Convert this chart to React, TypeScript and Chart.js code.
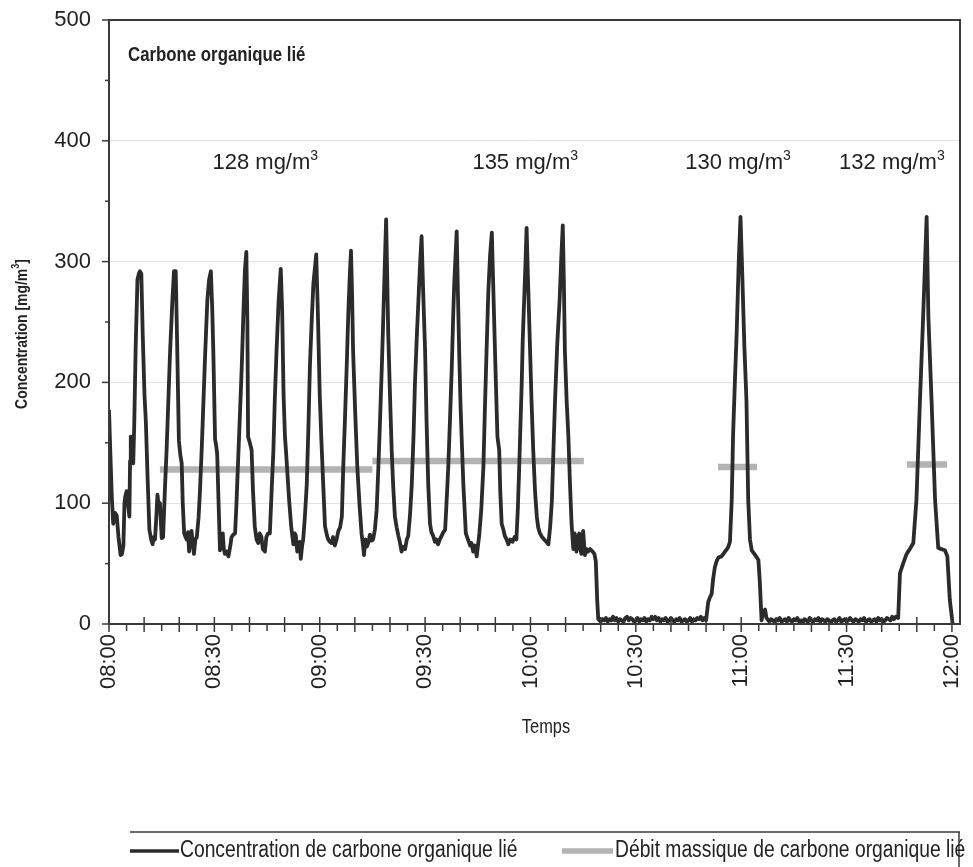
import React, { useEffect, useRef } from "react";
import { Chart, registerables } from "chart.js";

Chart.register(...registerables);

// ---- DATA (time in minutes after 08:00, concentration in mg/m3) ----
const concCycles: [number, number][] = [
  [0, 177], [0.4, 140], [0.8, 105], [1.2, 83], [1.7, 92], [2.2, 90], [2.7, 72], [3.3, 57], [3.7, 58], [4.1, 65],
  [4.4, 100], [4.6, 105], [5.0, 110], [5.4, 100], [5.8, 89], [6.0, 135], [6.2, 155], [6.6, 140], [6.9, 133], [7.2, 167],
  [7.6, 230], [8.1, 285], [8.5, 290], [8.8, 292], [9.2, 290], [9.6, 240], [10.1, 190], [10.5, 167], [11.0, 120], [11.5, 78],
  [12.0, 70], [12.4, 66], [12.8, 72], [13.1, 70], [13.5, 90], [13.8, 107], [14.2, 96], [14.5, 100], [15.0, 71], [15.4, 72],
  [15.9, 110], [16.4, 144], [16.9, 185], [17.4, 226], [18.0, 265], [18.5, 292], [19.0, 292], [19.4, 232], [19.9, 152], [20.3, 140],
  [20.7, 133], [21.0, 100], [21.4, 75], [21.8, 72], [22.1, 70], [22.5, 76], [22.8, 60], [23.2, 72], [23.5, 77], [23.9, 65],
  [24.2, 58], [24.6, 70], [25.0, 72], [25.5, 88], [25.9, 110], [26.4, 145], [26.8, 177], [27.4, 225], [28.0, 268], [28.5, 285],
  [29.0, 292], [29.4, 260], [29.7, 226], [30.2, 153], [30.5, 148], [30.8, 141], [31.2, 100], [31.6, 61], [32.0, 68], [32.4, 75],
  [32.7, 62], [33.0, 58], [33.5, 60], [34.0, 56], [34.5, 64], [34.9, 72], [35.4, 74], [35.9, 75], [36.3, 100], [36.8, 138],
  [37.3, 175], [37.8, 213], [38.3, 260], [38.7, 293], [39.1, 308], [39.4, 250], [39.6, 155], [40.1, 150], [40.6, 144], [41.0, 110],
  [41.5, 81], [42.0, 70], [42.5, 67], [42.9, 75], [43.4, 72], [43.8, 62], [44.4, 60], [44.8, 72], [45.3, 75], [45.8, 75],
  [46.3, 110], [46.8, 143], [47.2, 185], [47.7, 226], [48.3, 268], [48.9, 294], [49.3, 260], [49.7, 190], [50.1, 155], [50.4, 143],
  [50.9, 120], [51.3, 102], [51.9, 80], [52.5, 66], [52.9, 75], [53.2, 73], [53.6, 60], [53.9, 65], [54.3, 68], [54.6, 54],
  [55.0, 65], [55.3, 70], [55.8, 90], [56.3, 115], [56.8, 165], [57.2, 213], [57.7, 250], [58.2, 282], [59.0, 306], [59.4, 265],
  [59.6, 241], [60.0, 190], [60.5, 150], [61.0, 115], [61.5, 81], [62.0, 74], [62.4, 70], [62.9, 68], [63.4, 67], [63.8, 72],
  [64.3, 65], [64.8, 70], [65.3, 77], [65.8, 80], [66.3, 89], [66.7, 130], [67.2, 171], [67.7, 215], [68.1, 254], [68.5, 285],
  [68.9, 309], [69.2, 275], [69.5, 226], [70.1, 175], [70.7, 130], [71.3, 100], [71.9, 75], [72.3, 66], [72.6, 57], [73.0, 70],
  [73.4, 64], [73.8, 67], [74.3, 74], [74.8, 69], [75.2, 70], [75.7, 78], [76.2, 94], [76.7, 130], [77.2, 171], [77.7, 215],
  [78.1, 254], [78.5, 295], [78.9, 335], [79.2, 290], [79.5, 241], [80.0, 190], [80.5, 143], [80.9, 115], [81.4, 89], [81.9, 80],
  [82.4, 73], [82.8, 68], [83.3, 60], [83.8, 64], [84.3, 62], [84.8, 70], [85.2, 73], [85.7, 90], [86.2, 115], [86.7, 155],
  [87.1, 198], [87.6, 235], [88.1, 268], [88.6, 300], [89.0, 321], [89.4, 280], [90.0, 226], [90.4, 170], [90.9, 115], [91.4, 83],
  [91.8, 76], [92.3, 73], [92.8, 68], [93.2, 70], [93.7, 66], [94.2, 70], [94.7, 73], [95.2, 76], [95.7, 78], [96.1, 100],
  [96.6, 130], [97.1, 170], [97.6, 213], [98.0, 255], [98.3, 282], [99.0, 325], [99.3, 280], [99.7, 226], [100.1, 180], [100.4, 155],
  [100.9, 115], [101.6, 75], [102.2, 70], [102.8, 65], [103.2, 67], [103.7, 60], [104.2, 65], [104.7, 56], [105.1, 66], [105.4, 73],
  [106.0, 95], [106.6, 130], [107.0, 175], [107.5, 226], [108.0, 275], [108.5, 305], [109.0, 324], [109.4, 280], [109.9, 226], [110.3, 185],
  [110.6, 155], [111.1, 144], [111.4, 110], [111.8, 83], [112.3, 78], [112.7, 73], [113.2, 70], [113.7, 66], [114.3, 70], [114.9, 68],
  [115.5, 72], [116.0, 70], [116.4, 95], [116.8, 130], [117.1, 160], [117.5, 198], [117.8, 235], [118.2, 268], [118.6, 300], [118.9, 328],
  [119.3, 285], [119.9, 226], [120.3, 185], [120.8, 143], [121.3, 110], [121.8, 89], [122.2, 80], [122.7, 75], [123.3, 72], [123.9, 70],
  [124.5, 68], [125.1, 66], [125.6, 80], [126.1, 102], [126.5, 140], [127.0, 185], [127.6, 230], [128.3, 268], [128.8, 305], [129.2, 330],
  [129.5, 285], [129.8, 226], [130.3, 185], [130.8, 155], [131.2, 120], [131.7, 83], [132.2, 62], [132.6, 75], [133.1, 60], [133.5, 72],
  [133.9, 75], [134.2, 62], [134.5, 58], [135.0, 77], [135.5, 57], [136.0, 62], [136.4, 60], [137.0, 62], [137.7, 60], [138.2, 58],
  [138.6, 52], [139.0, 20], [139.3, 4],
];

const concIdle1: [number, number][] = [
  [140, 2], [140.5, 4], [141, 3], [141.5, 5], [142, 2], [142.5, 4], [143, 3], [143.5, 6], [144, 3], [144.5, 5],
  [145, 2], [145.5, 4], [146, 3], [146.5, 2], [147, 5], [147.5, 6], [148, 3], [148.5, 5], [149, 4], [149.5, 2],
  [150, 3], [150.5, 5], [151, 2], [151.5, 4], [152, 3], [152.5, 5], [153, 2], [153.5, 4], [154, 3], [154.5, 6],
  [155, 4], [155.5, 6], [156, 3], [156.5, 5], [157, 2], [157.5, 4], [158, 3], [158.5, 5], [159, 2], [159.5, 3],
  [160, 5], [160.5, 3], [161, 2], [161.5, 4], [162, 3], [162.5, 5], [163, 2], [163.5, 3], [164, 4], [164.5, 2],
  [165, 3], [165.5, 5], [166, 2], [166.5, 4], [167, 3], [167.5, 5], [168, 4], [168.5, 6], [169, 3], [169.5, 5],
];

const concPeak1100: [number, number][] = [
  [170.0, 3], [170.6, 18], [171.1, 22], [171.6, 25], [172.0, 37], [172.5, 47], [173.0, 52], [173.5, 55], [174.4, 56], [175.4, 60],
  [176.2, 63], [176.8, 68], [177.3, 102], [177.7, 157], [178.2, 200], [178.7, 240], [179.3, 300], [179.8, 337], [180.3, 290], [180.9, 230],
  [181.5, 185], [182.0, 103], [182.5, 70], [183.0, 61], [184.0, 57], [184.9, 53], [185.3, 35], [185.8, 3], [186.3, 10], [186.8, 12],
  [187.2, 5], [187.7, 3],
];

const concIdle2: [number, number][] = [
  [188, 2], [188.5, 4], [189, 3], [189.5, 2], [190, 4], [190.5, 3], [191, 5], [191.5, 2], [192, 3], [192.5, 4],
  [193, 2], [193.5, 5], [194, 3], [194.5, 2], [195, 4], [195.5, 3], [196, 5], [196.5, 2], [197, 3], [197.5, 1],
  [198, 4], [198.5, 3], [199, 2], [199.5, 5], [200, 3], [200.5, 2], [201, 4], [201.5, 3], [202, 5], [202.5, 2],
  [203, 4], [203.5, 3], [204, 2], [204.5, 4], [205, 3], [205.5, 1], [206, 3], [206.5, 4], [207, 2], [207.5, 3],
  [208, 5], [208.5, 2], [209, 3], [209.5, 4], [210, 2], [210.5, 3], [211, 5], [211.5, 3], [212, 2], [212.5, 4],
  [213, 3], [213.5, 2], [214, 4], [214.5, 3], [215, 5], [215.5, 2], [216, 3], [216.5, 4], [217, 2], [217.5, 3],
  [218, 4], [218.5, 2], [219, 5], [219.5, 3], [220, 4], [220.5, 2], [221, 3], [221.5, 5], [222, 4], [222.5, 3],
  [223, 6], [223.5, 4], [224, 6], [224.7, 5],
];

const concPeak1200: [number, number][] = [
  [225.2, 42], [226.1, 50], [227.1, 58], [228.0, 62], [229.0, 67], [229.9, 103], [230.9, 185], [231.8, 254], [232.8, 337], [233.3, 254],
  [234.2, 185], [235.2, 103], [236.1, 63], [237.0, 62], [238.0, 61], [238.7, 56], [239.4, 20], [240.2, 0],
];

// Mass flow (Débit massique), plotted as mean-value segments
const fluxTimes = [14.5, 75, 75, 75, 135.2, 135.2, 173.4, 184.5, 184.5, 227.2, 238.6];
const fluxValues: (number | null)[] = [128, 128, null, 135, 135, null, 130, 130, null, 132, 132];

const xTickMinutes = [0, 30, 60, 90, 120, 150, 180, 210, 240];
const xTickLabels = ["08:00", "08:30", "09:00", "09:30", "10:00", "10:30", "11:00", "11:30", "12:00"];
const yTickValues = [0, 100, 200, 300, 400, 500];

const annotationValues = [128, 135, 130, 132];
const annotationAnchorMinutes = [44.5, 118.5, 179.1, 222.9];

const chartTitle = "Carbone organique lié";
const yAxisTitle = "Concentration [mg/m";
const xAxisTitle = "Temps";
const seriesNames = ["Concentration de carbone organique lié", "Débit massique de carbone organique lié"];

// ---- STYLE ----
const SANS = "'Liberation Sans', Arial, Helvetica, sans-serif";
const NARROW_X = 0.82; // horizontal squeeze to imitate Arial Narrow
const DARK = "#2b2b2b";
const GREY = "#b3b3b3";
const AXIS = "#3a3a3a";
const TEXT = "#222222";

function narrowWidth(ctx: CanvasRenderingContext2D, text: string, font: string) {
  ctx.font = font;
  return ctx.measureText(text).width * NARROW_X;
}

function drawNarrow(
  ctx: CanvasRenderingContext2D,
  text: string,
  x: number,
  y: number,
  font: string,
  baseline: CanvasTextBaseline = "middle"
) {
  ctx.save();
  ctx.translate(x, y);
  ctx.scale(NARROW_X, 1);
  ctx.font = font;
  ctx.textAlign = "left";
  ctx.textBaseline = baseline;
  ctx.fillText(text, 0, 0);
  ctx.restore();
}

const decorPlugin = {
  id: "decor",
  afterDraw(chart: any) {
    const { ctx, chartArea: a, scales } = chart;
    const x = scales.x;
    const y = scales.y;
    ctx.save();

    const line = (x1: number, y1: number, x2: number, y2: number) => {
      ctx.beginPath();
      ctx.moveTo(x1, y1);
      ctx.lineTo(x2, y2);
      ctx.stroke();
    };

    // frame
    ctx.strokeStyle = AXIS;
    ctx.lineWidth = 2;
    ctx.strokeRect(a.left, a.top, a.right - a.left, a.bottom - a.top);

    // y tick marks (major every 100, minor every 50)
    ctx.lineWidth = 1.5;
    for (let v = 0; v <= 500; v += 50) {
      const py = y.getPixelForValue(v);
      const len = v % 100 === 0 ? 7 : 4;
      line(a.left - len, py, a.left, py);
    }
    // x tick marks (major every 10 min crossing, minor every 5 min outside)
    for (let m = 0; m <= 240; m += 5) {
      const px = x.getPixelForValue(m);
      if (m % 10 === 0) line(px, a.bottom - 7, px, a.bottom + 8);
      else line(px, a.bottom, px, a.bottom + 7);
    }

    ctx.fillStyle = TEXT;

    // chart title
    drawNarrow(ctx, chartTitle, a.left + 19, 55, `bold 20.5px ${SANS}`);

    // annotations
    const annY = y.getPixelForValue(377);
    annotationValues.forEach((v, i) => {
      const cx = x.getPixelForValue(annotationAnchorMinutes[i]);
      ctx.font = `22px ${SANS}`;
      const main = `${v} mg/m`;
      const wMain = ctx.measureText(main).width;
      ctx.font = `14px ${SANS}`;
      const wSup = ctx.measureText("3").width;
      const left = cx - (wMain + wSup) / 2;
      ctx.textAlign = "left";
      ctx.textBaseline = "alphabetic";
      ctx.font = `22px ${SANS}`;
      ctx.fillText(main, left, annY);
      ctx.font = `14px ${SANS}`;
      ctx.fillText("3", left + wMain, annY - 9);
    });

    // y axis title (rotated)
    ctx.save();
    ctx.translate(22, 334);
    ctx.rotate(-Math.PI / 2);
    const fT = `bold 17px ${SANS}`;
    const fS = `bold 11px ${SANS}`;
    const wT = narrowWidth(ctx, yAxisTitle, fT);
    const wS = narrowWidth(ctx, "3", fS);
    const wB = narrowWidth(ctx, "]", fT);
    const total = wT + wS + wB;
    drawNarrow(ctx, yAxisTitle, -total / 2, 0, fT);
    drawNarrow(ctx, "3", -total / 2 + wT, -6, fS);
    drawNarrow(ctx, "]", -total / 2 + wT + wS, 0, fT);
    ctx.restore();

    // x axis title
    const fX = `20px ${SANS}`;
    const wX = narrowWidth(ctx, xAxisTitle, fX);
    drawNarrow(ctx, xAxisTitle, 546 - wX / 2, 727, fX);

    // legend box
    const ly = 851;
    ctx.strokeStyle = AXIS;
    ctx.lineWidth = 1.5;
    line(130, 832, 960, 832);
    line(959, 832, 959, 867);
    ctx.lineWidth = 3.5;
    ctx.strokeStyle = DARK;
    line(130, ly, 179, ly);
    ctx.lineWidth = 5.5;
    ctx.strokeStyle = GREY;
    line(562, ly, 613, ly);
    ctx.fillStyle = TEXT;
    const fL = `23.5px ${SANS}`;
    drawNarrow(ctx, seriesNames[0], 180, ly, fL);
    drawNarrow(ctx, seriesNames[1], 615, ly, fL);

    ctx.restore();
  },
};

const zeroPadding = (scale: any) => {
  scale.paddingTop = 0;
  scale.paddingBottom = 0;
  scale.paddingLeft = 0;
  scale.paddingRight = 0;
};

export default function App() {
  const canvasRef = useRef<HTMLCanvasElement | null>(null);

  useEffect(() => {
    const canvas = canvasRef.current;
    if (!canvas) return;
    const concAll = [...concCycles, ...concIdle1, ...concPeak1100, ...concIdle2, ...concPeak1200];
    const chart = new Chart(canvas, {
      type: "line",
      data: {
        datasets: [
          {
            label: seriesNames[0],
            data: concAll.map(([m, v]) => ({ x: m, y: v })),
            borderColor: DARK,
            borderWidth: 3.8,
            pointRadius: 0,
            tension: 0,
            borderJoinStyle: "round",
            fill: false,
          },
          {
            label: seriesNames[1],
            data: fluxTimes.map((m, i) => ({ x: m, y: fluxValues[i] as any })),
            borderColor: GREY,
            borderWidth: 6.5,
            borderCapStyle: "butt",
            pointRadius: 0,
            spanGaps: false,
            fill: false,
          },
        ],
      },
      options: {
        responsive: false,
        animation: false,
        devicePixelRatio: 1,
        layout: { padding: { left: 0, top: 20, right: 13, bottom: 0 } },
        plugins: {
          legend: { display: false },
          tooltip: { enabled: false },
          title: { display: false },
        },
        scales: {
          x: {
            type: "linear",
            min: 0,
            max: 242.3,
            afterBuildTicks: (scale: any) => {
              scale.ticks = xTickMinutes.map((v) => ({ value: v }));
            },
            afterFit: (scale: any) => {
              scale.height = 243;
              zeroPadding(scale);
            },
            grid: { display: false, drawTicks: false },
            border: { display: false },
            ticks: {
              autoSkip: false,
              minRotation: 90,
              maxRotation: 90,
              padding: 10,
              color: TEXT,
              font: { family: SANS, size: 22 },
              callback: (value: any) => {
                const idx = xTickMinutes.indexOf(Number(value));
                return idx >= 0 ? xTickLabels[idx] : "";
              },
            },
          },
          y: {
            type: "linear",
            min: 0,
            max: 500,
            afterBuildTicks: (scale: any) => {
              scale.ticks = yTickValues.map((v) => ({ value: v }));
            },
            afterFit: (scale: any) => {
              scale.width = 109;
              zeroPadding(scale);
            },
            grid: {
              drawTicks: false,
              color: "#e2e2e2",
              lineWidth: 1,
            },
            border: { display: false },
            ticks: {
              padding: 18,
              color: TEXT,
              font: { family: SANS, size: 22 },
            },
          },
        },
      },
      plugins: [decorPlugin],
    });
    return () => chart.destroy();
  }, []);

  return (
    <div style={{ position: "absolute", left: 0, top: 0, width: 973, height: 867, background: "#fff" }}>
      <canvas ref={canvasRef} width={973} height={867} style={{ display: "block" }} />
    </div>
  );
}
